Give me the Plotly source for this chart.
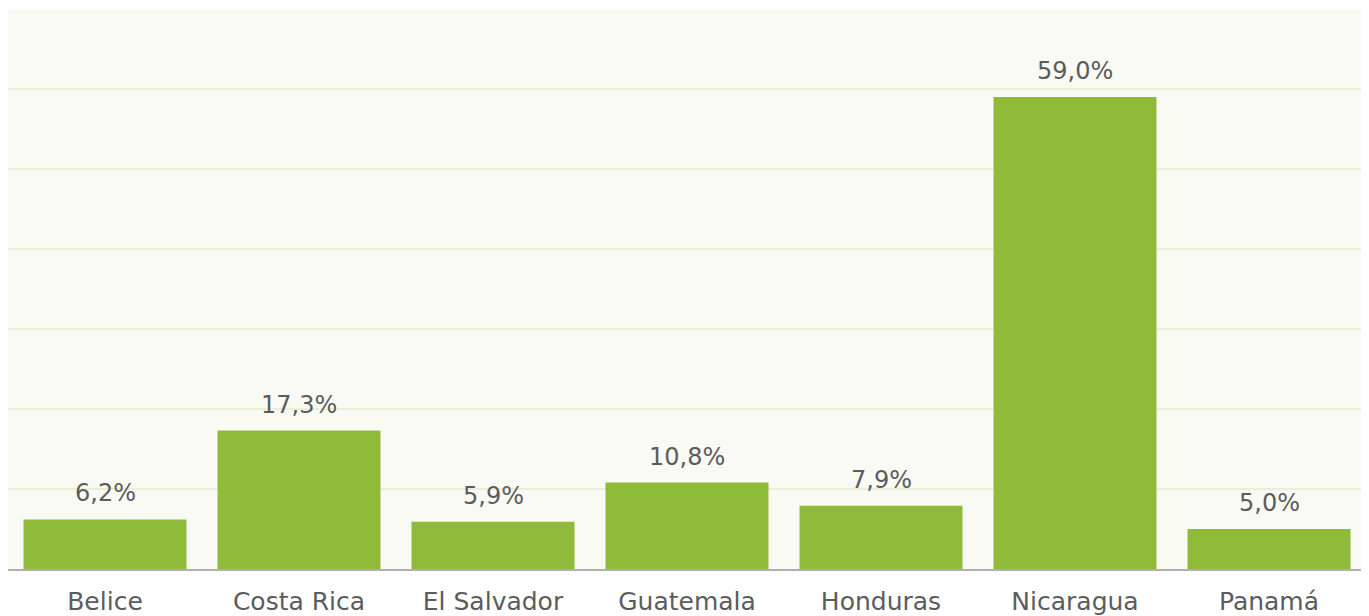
import plotly.graph_objects as go

countries = ["Belice", "Costa Rica", "El Salvador", "Guatemala", "Honduras", "Nicaragua", "Panamá"]
values = [6.2, 17.3, 5.9, 10.8, 7.9, 59.0, 5.0]

bar_color = "#8fba3a"
text_color = "#5c5c5c"
font_family = "DejaVu Sans, Open Sans, sans-serif"

fig = go.Figure(go.Bar(
    x=countries, y=values,
    marker=dict(color=bar_color, line=dict(width=0)),
    hoverinfo="skip",
))

for c, v in zip(countries, values):
    fig.add_annotation(
        x=c, y=v, text=f"{v:.1f}".replace(".", ",") + "%",
        showarrow=False, yanchor="bottom", yshift=10,
        font=dict(family=font_family, size=24, color=text_color),
    )

fig.update_layout(
    width=1369, height=616,
    margin=dict(l=0, r=11, t=1, b=55),
    paper_bgcolor="white",
    plot_bgcolor="#f8faf3",
    bargap=0.16,
    showlegend=False,
    separators=",.",
    font=dict(family=font_family, size=24, color=text_color),
    xaxis=dict(
        showgrid=False, showline=True, linecolor="#b0b0b0", linewidth=2,
        ticks="outside", ticklen=9, tickcolor="rgba(0,0,0,0)",
        tickfont=dict(size=25, color=text_color),
    ),
    yaxis=dict(
        range=[0, 70], dtick=10, showticklabels=False,
        showgrid=True, gridcolor="#eaf0d8", gridwidth=2,
        zeroline=False, showline=False,
    ),
)

fig.write_html("out.html")
